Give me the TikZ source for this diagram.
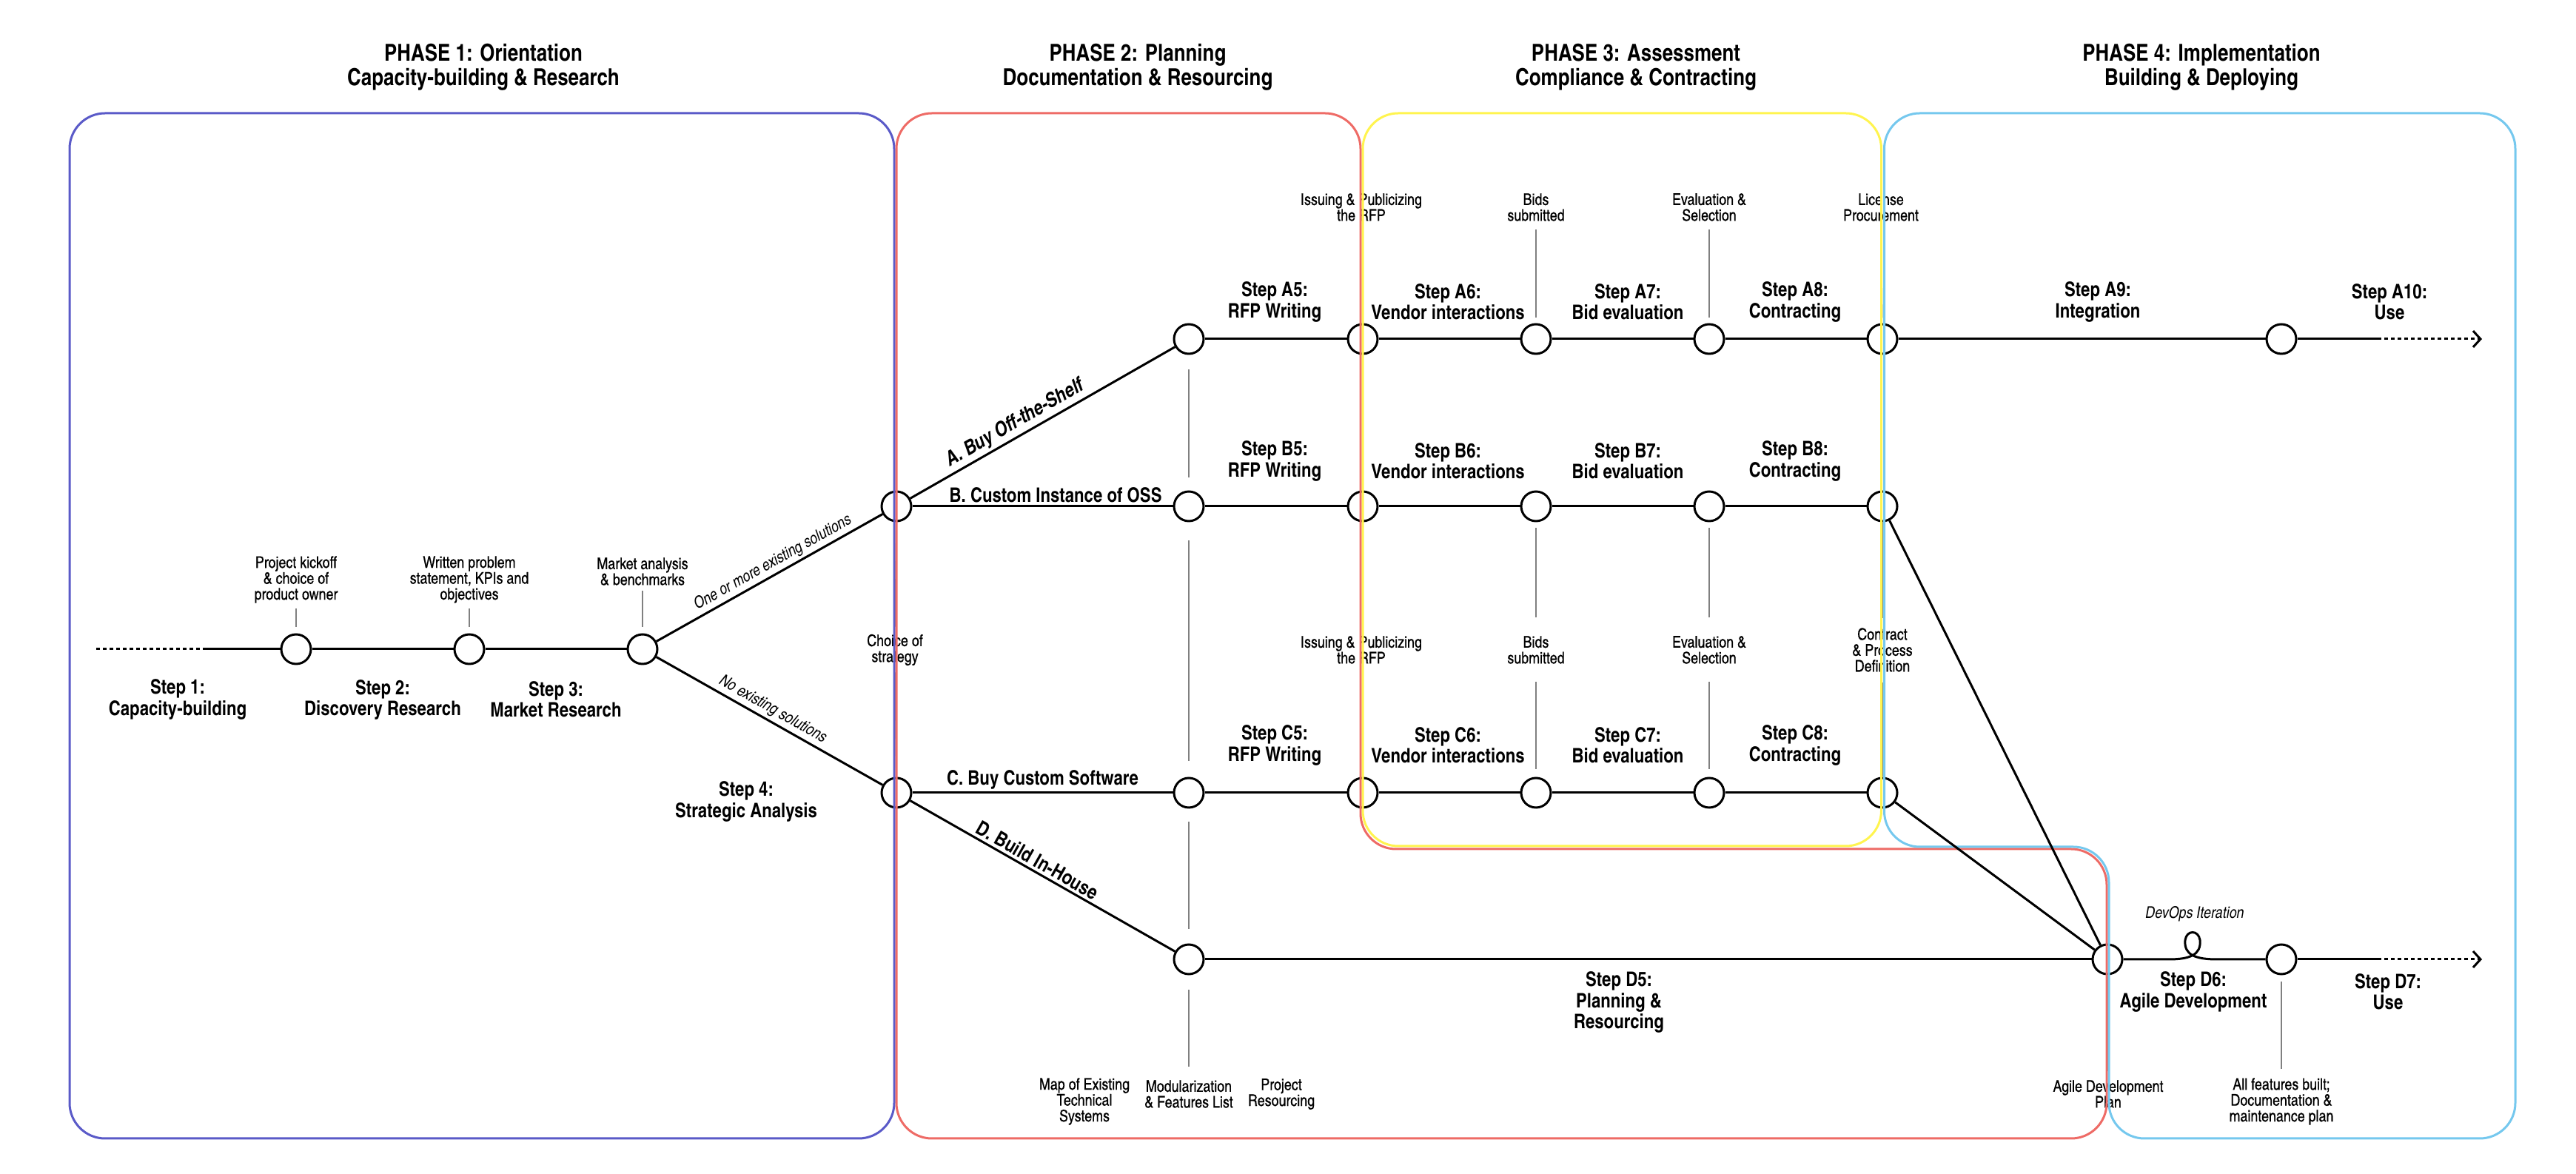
\documentclass[tikz,border=0pt]{standalone}
\usepackage{fontspec}
\setmainfont{texgyreheroscn}[Extension=.otf, UprightFont=*-regular, BoldFont=*-bold, ItalicFont=*-italic, BoldItalicFont=*-bolditalic]
\newfontfamily\notefamily{texgyreheroscn}[Extension=.otf, UprightFont=*-regular, FakeBold=0.5]
\usepackage{xcolor}
\usepackage{tikz}
\usetikzlibrary{arrows.meta}

\definecolor{phaseone}{HTML}{5A5AC8}
\definecolor{phasetwo}{HTML}{EE6B66}
\definecolor{phasethree}{HTML}{FFF44F}
\definecolor{phasefour}{HTML}{75C8EE}

\newcommand{\phasefont}{\fontsize{9}{9.4}\selectfont\bfseries}
\newcommand{\stepfont}{\fontsize{7.7}{8}\selectfont\bfseries}
\newcommand{\notefont}{\notefamily\fontsize{6.2}{6.1}\selectfont}
\newcommand{\forkfont}{\fontsize{6.2}{6.1}\selectfont\itshape}

\begin{document}
\begin{tikzpicture}[
    station/.style={circle, draw=black, fill=white, line width=0.03cm, minimum size=0.40cm, inner sep=0pt},
    track/.style={draw=black, line width=0.03cm},
    dots/.style={line width=0.03cm, dash pattern=on 0.05cm off 0.04cm},
    tick/.style={draw=gray, line width=0.015cm},
    phase/.style={align=center, font=\phasefont},
    steplabel/.style={align=center, font=\stepfont},
    note/.style={align=center, font=\notefont, inner sep=1pt},
    branch/.style={font=\stepfont, inner sep=1pt},
    fork/.style={font=\forkfont, inner sep=1pt},
    border/.style={line width=0.03cm, rounded corners=0.48cm}
]
    \useasboundingbox (0,0) rectangle (34.8,-15.86);

    % Phase titles
    \node[phase] (T1) at (6.53,-0.905) {PHASE 1: Orientation\\Capacity-building \& Research};
    \node[phase] (T2) at (15.37,-0.905) {PHASE 2: Planning\\Documentation \& Resourcing};
    \node[phase] (T3) at (22.10,-0.905) {PHASE 3: Assessment\\Compliance \& Contracting};
    \node[phase] (T4) at (29.74,-0.905) {PHASE 4: Implementation\\Building \& Deploying};

    % Stations
    \node[station] (n1) at (4.00,-8.77) {};
    \node[station] (n2) at (6.34,-8.77) {};
    \node[station] (n3) at (8.68,-8.77) {};
    \node[station] (B4) at (12.11,-6.84) {};
    \node[station] (C4) at (12.11,-10.71) {};
    \foreach \row/\ypos in {A/-4.58, B/-6.84, C/-10.71} {
        \foreach \col/\xpos in {5/16.06, 6/18.41, 7/20.75, 8/23.09, 9/25.43} {
            \node[station] (\row\col) at (\xpos,\ypos) {};
        }
    }
    \node[station] (A10) at (30.82,-4.58) {};
    \node[station] (D5) at (16.06,-12.96) {};
    \node[station] (D6) at (28.47,-12.96) {};
    \node[station] (D7) at (30.82,-12.96) {};

    \coordinate (start) at (1.30,-8.77);
    \coordinate (startline) at (2.74,-8.77);
    \coordinate (Aend) at (32.12,-4.58);
    \coordinate (Aarrow) at (33.53,-4.58);
    \coordinate (Dend) at (32.12,-12.96);
    \coordinate (Darrow) at (33.53,-12.96);

    % Step labels
    \node[steplabel] (L1) at (2.40,-9.45) {Step 1:\\Capacity-building};
    \node[steplabel] (L2) at (5.17,-9.45) {Step 2:\\Discovery Research};
    \node[steplabel] (L3) at (7.51,-9.45) {Step 3:\\Market Research};
    \node[steplabel] (L4) at (10.08,-10.83) {Step 4:\\Strategic Analysis};
    \foreach \row/\ypos in {A/-4.08, B/-6.23, C/-10.07} {
        \node[steplabel] (L\row5) at (17.22,\ypos) {Step \row5:\\RFP Writing};
        \node[steplabel] (L\row6) at (19.56,\ypos) {Step \row6:\\Vendor interactions};
        \node[steplabel] (L\row7) at (21.99,\ypos) {Step \row7:\\Bid evaluation};
        \node[steplabel] (L\row8) at (24.25,\ypos) {Step \row8:\\Contracting};
    }
    \node[steplabel] (LA9) at (28.34,-4.08) {Step A9:\\Integration};
    \node[steplabel] (LA10) at (32.28,-4.08) {Step A10:\\Use};
    \node[steplabel] (LD5) at (21.87,-13.54) {Step D5:\\Planning \&\\Resourcing};
    \node[steplabel] (LD6) at (29.63,-13.40) {Step D6:\\Agile Development};
    \node[steplabel] (LD7) at (32.26,-13.40) {Step D7:\\Use};

    % Notes
    \node[note] (kickoff) at (4.00,-7.83) {Project kickoff\\\& choice of\\product owner};
    \node[note] (problem) at (6.34,-7.83) {Written problem\\statement, KPIs and\\objectives};
    \node[note] (market) at (8.68,-7.72) {Market analysis\\\& benchmarks};
    \node[note] (choice) at (12.09,-8.78) {Choice of\\strategy};
    \node[note] (issueA) at (18.39,-2.80) {Issuing \& Publicizing\\the RFP};
    \node[note] (bidsA) at (20.75,-2.80) {Bids\\submitted};
    \node[note] (evalA) at (23.09,-2.80) {Evaluation \&\\Selection};
    \node[note] (license) at (25.41,-2.80) {License\\Procurement};
    \node[note] (issueC) at (18.39,-8.78) {Issuing \& Publicizing\\the RFP};
    \node[note] (bidsC) at (20.75,-8.78) {Bids\\submitted};
    \node[note] (evalC) at (23.09,-8.78) {Evaluation \&\\Selection};
    \node[note] (contract) at (25.43,-8.78) {Contract\\\& Process\\Definition};
    \node[note] (techmap) at (14.65,-14.88) {Map of Existing\\Technical\\Systems};
    \node[note] (modular) at (16.06,-14.78) {Modularization\\\& Features List};
    \node[note] (resourcing) at (17.31,-14.78) {Project\\Resourcing};
    \node[note] (agileplan) at (28.48,-14.78) {Agile Development\\Plan};
    \node[note] (features) at (30.82,-14.88) {All features built;\\Documentation \&\\maintenance plan};
    \node[fork] (devops) at (29.65,-12.35) {DevOps Iteration};

    % Ticks
    \draw[tick, shorten <=0.03cm, shorten >=0.08cm] (kickoff) -- (n1);
    \draw[tick, shorten <=0.03cm, shorten >=0.08cm] (problem) -- (n2);
    \draw[tick, shorten <=0.03cm, shorten >=0.08cm] (market) -- (n3);
    \draw[tick, shorten <=0.11cm, shorten >=0.06cm] (B4) -- (choice);
    \draw[tick, shorten <=0.05cm, shorten >=0.12cm] (choice) -- (C4);
    \draw[tick, shorten <=0.20cm, shorten >=0.17cm] (A5) -- (B5);
    \draw[tick, shorten <=0.25cm, shorten >=0.21cm] (B5) -- (C5);
    \draw[tick, shorten <=0.18cm, shorten >=0.19cm] (C5) -- (D5);
    \draw[tick, shorten <=0.20cm, shorten >=0.14cm] (D5) -- (modular);
    \draw[tick, shorten <=0.07cm, shorten >=0.07cm] (bidsA) -- (A7);
    \draw[tick, shorten <=0.07cm, shorten >=0.07cm] (evalA) -- (A8);
    \draw[tick, shorten <=0.07cm, shorten >=0.07cm] (license) -- (A9);
    \draw[tick, shorten <=0.08cm, shorten >=0.21cm] (B7) -- (bidsC);
    \draw[tick, shorten <=0.20cm, shorten >=0.10cm] (bidsC) -- (C7);
    \draw[tick, shorten <=0.08cm, shorten >=0.21cm] (B8) -- (evalC);
    \draw[tick, shorten <=0.20cm, shorten >=0.10cm] (evalC) -- (C8);
    \draw[tick, shorten >=0.09cm] (B9) -- (contract);
    \draw[tick, shorten <=0.10cm] (contract) -- (C9);
    \draw[tick, shorten <=0.01cm, shorten >=0.08cm] (D6) -- (agileplan);
    \draw[tick, shorten <=0.09cm, shorten >=0.08cm] (D7) -- (features);

    % Phase boxes
    \draw[border, phaseone] (0.94,-1.53) rectangle (12.08,-15.38);
    \draw[border, phasetwo] (12.11,-1.53) -- (18.38,-1.53) -- (18.38,-11.47) -- (28.46,-11.47)
        -- (28.46,-15.38) -- (12.11,-15.38) -- cycle;
    \draw[border, phasethree] (18.41,-1.53) rectangle (25.415,-11.43);
    \draw[border, phasefour] (25.455,-1.53) -- (33.98,-1.53) -- (33.98,-15.38) -- (28.49,-15.38)
        -- (28.49,-11.44) -- (25.455,-11.44) -- cycle;

    % Connections
    \draw[dots] (start) -- (startline);
    \draw[track] (startline) -- (n1) -- (n2) -- (n3);
    \draw[track] (n3) -- node[fork, sloped, above, pos=0.54] {One or more existing solutions} (B4);
    \draw[track] (n3) -- node[fork, sloped, above, pos=0.49] {No existing solutions} (C4);
    \draw[track] (B4) -- node[branch, sloped, above, pos=0.42, font=\stepfont\itshape] {A. Buy Off-the-Shelf} (A5);
    \draw[track] (B4) -- node[branch, above, pos=0.55] {B. Custom Instance of OSS} (B5);
    \draw[track] (C4) -- node[branch, above, pos=0.5] {C. Buy Custom Software} (C5);
    \draw[track] (C4) -- node[branch, sloped, above, pos=0.46] {D. Build In-House} (D5);

    \draw[track] (A5) -- (A6) -- (A7) -- (A8) -- (A9) -- (A10) -- (Aend);
    \draw[dots, -{Straight Barb[length=0.1cm, width=0.22cm]}] (Aend) -- (Aarrow);
    \draw[track] (B5) -- (B6) -- (B7) -- (B8) -- (B9);
    \draw[track] (C5) -- (C6) -- (C7) -- (C8) -- (C9);
    \draw[track] (B9) -- (D6);
    \draw[track] (C9) -- (D6);
    \draw[track] (D5) -- (D6);
    \draw[track] (D6) -- (29.30,-12.96) .. controls (29.58,-12.96) and (29.74,-12.90) .. (29.72,-12.70)
        .. controls (29.70,-12.56) and (29.54,-12.56) .. (29.52,-12.70)
        .. controls (29.50,-12.90) and (29.66,-12.96) .. (29.95,-12.96) -- (D7);
    \draw[track] (D7) -- (Dend);
    \draw[dots, -{Straight Barb[length=0.1cm, width=0.22cm]}] (Dend) -- (Darrow);
\end{tikzpicture}
\end{document}
